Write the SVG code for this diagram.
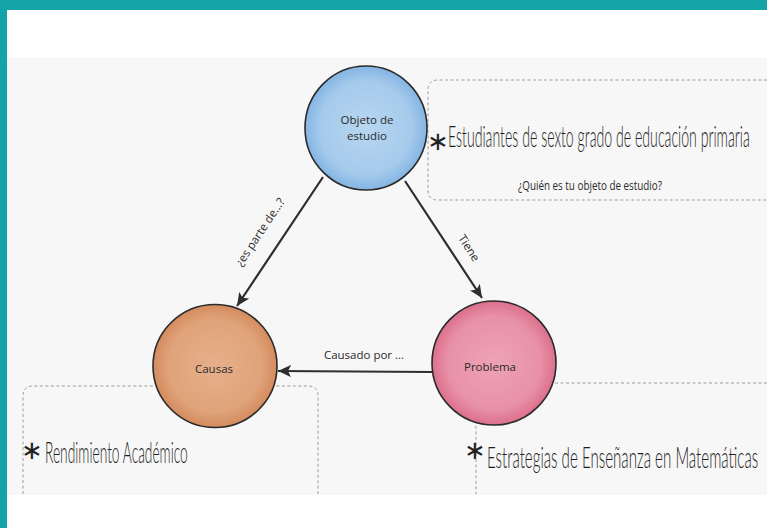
<svg xmlns="http://www.w3.org/2000/svg" width="767" height="528" viewBox="0 0 767 528">
<style>
.box{fill:none;stroke:#9c9c9c;stroke-width:1;stroke-dasharray:3 2.5}
.edge{fill:none;stroke:#2e2e2e;stroke-width:2.2}
.ring{stroke:#2a2a2a;stroke-width:1.6}
.lbl{font-family:"Open Sans","Liberation Sans",sans-serif;font-size:11.5px;fill:#2a2a2a;text-anchor:middle}
.hand{font-family:"Lato","Liberation Sans",sans-serif;font-weight:300;font-size:25px;fill:#1e1e1e}
.star{font-family:"DejaVu Sans",sans-serif;font-size:26px;fill:#222222;text-anchor:middle}
</style>
<defs>
<marker id="ah" markerUnits="userSpaceOnUse" markerWidth="14" markerHeight="12" refX="13" refY="6" orient="auto">
<path d="M0,0 L13,6 L0,12 L3,6 Z" fill="#2e2e2e"/>
</marker>
<radialGradient id="gBlue" cx="50%" cy="50%" r="50%">
<stop offset="0" stop-color="#b8d7f1"/><stop offset="0.75" stop-color="#a5caec"/><stop offset="1" stop-color="#84b5e3"/>
</radialGradient>
<radialGradient id="gOrange" cx="50%" cy="50%" r="50%">
<stop offset="0" stop-color="#e6b08b"/><stop offset="0.75" stop-color="#e0a37a"/><stop offset="1" stop-color="#d48b5e"/>
</radialGradient>
<radialGradient id="gPink" cx="50%" cy="50%" r="50%">
<stop offset="0" stop-color="#eea3b5"/><stop offset="0.75" stop-color="#e891a6"/><stop offset="1" stop-color="#dc6f8c"/>
</radialGradient>
</defs>
<rect x="0" y="0" width="767" height="528" fill="#ffffff"/>
<rect x="7" y="58" width="760" height="437" fill="#f7f7f7"/>
<rect x="0" y="0" width="767" height="10" fill="#14a3a6"/>
<rect x="0" y="0" width="7" height="528" fill="#14a3a6"/>
<g id="boxes">
<path class="box" d="M767,80 H438 Q428,80 428,90 V190 Q428,200 438,200 H767"/>
<path class="box" d="M23,494 V396 Q23,386 33,386 H308 Q318,386 318,396 V494"/>
<path class="box" d="M767,383 H486 Q476,383 476,393 V494"/>
</g>
<g id="connectors">
<line class="edge" x1="323" y1="177" x2="237" y2="306" marker-end="url(#ah)"/>
<line class="edge" x1="405" y1="181" x2="482" y2="298" marker-end="url(#ah)"/>
<line class="edge" x1="432" y1="372" x2="278" y2="371" marker-end="url(#ah)"/>
<text class="lbl" transform="translate(260,232) rotate(-56.3)" y="4">¿es parte de...?</text>
<text class="lbl" transform="translate(469,248) rotate(56.7)" y="4">Tiene</text>
<text class="lbl" x="364" y="359">Causado por ...</text>
</g>
<g id="objeto">
<ellipse class="ring" cx="366" cy="128" rx="61" ry="62" fill="url(#gBlue)"/>
<text class="lbl" x="367" y="124">Objeto de</text>
<text class="lbl" x="367" y="140">estudio</text>
</g>
<g id="causas">
<ellipse class="ring" cx="215" cy="366" rx="62" ry="61.5" fill="url(#gOrange)"/>
<text class="lbl" x="214" y="373">Causas</text>
</g>
<g id="problema">
<ellipse class="ring" cx="494" cy="363" rx="62" ry="62" fill="url(#gPink)"/>
<text class="lbl" x="490" y="371">Problema</text>
</g>
<g id="notes">
<text class="star" x="438" y="150">∗</text>
<text class="hand" transform="translate(448,147) scale(0.6,1.16)" textLength="503" lengthAdjust="spacingAndGlyphs">Estudiantes de sexto grado de educación primaria</text>
<text class="lbl" x="590" y="190" style="font-size:12.5px" textLength="144" lengthAdjust="spacingAndGlyphs">¿Quién es tu objeto de estudio?</text>
<text class="star" x="32" y="459">∗</text>
<text class="hand" transform="translate(45,463) scale(0.6,1.16)" textLength="238" lengthAdjust="spacingAndGlyphs">Rendimiento Académico</text>
<text class="star" x="475" y="459">∗</text>
<text class="hand" transform="translate(487,468) scale(0.6,1.16)" textLength="452" lengthAdjust="spacingAndGlyphs">Estrategias de Enseñanza en Matemáticas</text>
</g>
</svg>
